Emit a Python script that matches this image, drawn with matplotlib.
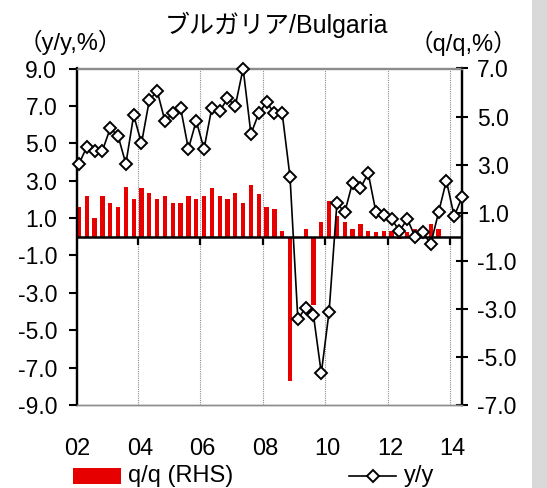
import numpy as np
import matplotlib
matplotlib.use('Agg')
import matplotlib.pyplot as plt
from matplotlib.patches import Rectangle
from matplotlib.lines import Line2D

plt.rcParams['font.family'] = ['Liberation Sans', 'Noto Sans CJK JP']

# Quarterly data, 2002Q1 - 2014Q2
years = ['02', '04', '06', '08', '10', '12', '14']
yy = [3.9, 4.8, 4.6, 4.6, 5.8, 5.4, 3.9, 6.5, 5.0, 7.3,
      7.8, 6.2, 6.6, 6.9, 4.7, 6.2, 4.7, 6.9, 6.7, 7.4,
      7.0, 9.0, 5.5, 6.6, 7.2, 6.6, 6.6, 3.2, -4.4, -3.8,
      -4.2, -7.3, -4.0, 1.8, 1.3, 2.9, 2.6, 3.4, 1.3, 1.15,
      0.95, 0.3, 0.95, 0.0, 0.25, -0.4, 1.3, 3.0, 1.1, 2.1]
qq = [1.24, 1.70, 0.77, 1.70, 1.40, 1.24, 2.07, 1.55, 2.01, 1.84,
      1.55, 1.70, 1.40, 1.40, 1.70, 1.55, 1.70, 2.01, 1.70, 1.55,
      1.84, 1.40, 2.14, 1.77, 1.24, 1.16, 0.25, -6.0, 0.0, 0.31,
      -2.84, 0.63, 1.47, 0.86, 0.63, 0.31, 0.55, 0.25, 0.18, 0.25,
      0.25, -0.10, 0.18, 0.31, 0.12, 0.55, 0.31, np.nan, np.nan, np.nan]

W, H = 547, 488
fig = plt.figure(figsize=(W / 100, H / 100), dpi=100)

def fx(px):
    return px / W

def fy(py):
    return 1 - py / H

# grey strip on the right
fig.add_artist(Rectangle((fx(531.5), 0), fx(W - 531.5), 1, transform=fig.transFigure,
                         facecolor='#d9d9d9', edgecolor='none'))

ax = fig.add_axes([fx(77), fy(405), fx(462 - 77), (405 - 68.5) / H])
ax2 = ax.twinx()
ax.set_zorder(ax2.get_zorder() + 1)
ax.patch.set_visible(False)

x = np.arange(len(yy))
bounds = np.arange(7.5, len(yy), 8)

for b in bounds:
    ax2.axvline(b, color='#8c8c8c', lw=0.8, ls=(0, (1, 1)), zorder=0)
ax2.bar(x, qq, width=0.55, color='#e60000', zorder=2)
ax2.set_ylim(-7, 7)
ax2.set_yticks(np.arange(-7, 8, 2))
ax2.set_yticklabels(['%.1f' % v for v in np.arange(-7, 8, 2)])

ax.axhline(0, color='black', lw=1.8, zorder=3)
ax.vlines(bounds, -0.45, 0, color='black', lw=1.6, zorder=3)
ax.plot(x, yy, color='black', lw=1.2, marker='D', ms=6.4, mfc='white',
        mec='black', mew=1.4, zorder=4, clip_on=False)
ax.set_ylim(-9, 9)
ax.set_xlim(-0.25, 49.0)
ax.set_yticks(np.arange(-9, 10, 2))
ax.set_yticklabels(['%.1f' % v for v in np.arange(-9, 10, 2)])

ax.set_xticks(np.arange(len(years)) * 8 - 0.5 + 0.3)
ax.set_xticklabels(years)
ax.tick_params(axis='x', length=0, pad=24, labelsize=17)
ax.tick_params(axis='y', direction='out', length=5.8, width=1.5, pad=8.5, labelsize=16.5)
ax2.tick_params(axis='y', direction='inout', length=8.6, width=1.5, pad=6.5, labelsize=16.5)

for a in (ax, ax2):
    a.spines['top'].set_color('#8c8c8c')
    a.spines['bottom'].set_color('#8c8c8c')
    a.spines['top'].set_linewidth(1.0)
    a.spines['bottom'].set_linewidth(1.0)
    a.spines['left'].set_linewidth(1.6)
    a.spines['right'].set_linewidth(1.6)

fig.text(fx(276), fy(24.5), 'ブルガリア/Bulgaria', ha='center', va='center', fontsize=18)
fig.text(fx(70), fy(42), '（y/y,%）', ha='center', va='center', fontsize=17)
fig.text(fx(463), fy(43), '（q/q,%）', ha='center', va='center', fontsize=17)

# legend
fig.add_artist(Rectangle((fx(73), fy(484)), fx(48), 16 / H, transform=fig.transFigure,
                         facecolor='#e60000', edgecolor='none'))
fig.text(fx(128), fy(476), 'q/q (RHS)', ha='left', va='center', fontsize=17)
fig.add_artist(Line2D([fx(349), fx(396)], [fy(476), fy(476)], transform=fig.transFigure,
                      color='black', lw=1.2))
fig.add_artist(Line2D([fx(372.5)], [fy(476)], transform=fig.transFigure, marker='D',
                      ms=6.4, mfc='white', mec='black', mew=1.4))
fig.text(fx(404), fy(476), 'y/y', ha='left', va='center', fontsize=17)

plt.savefig('out.png', dpi=100)
